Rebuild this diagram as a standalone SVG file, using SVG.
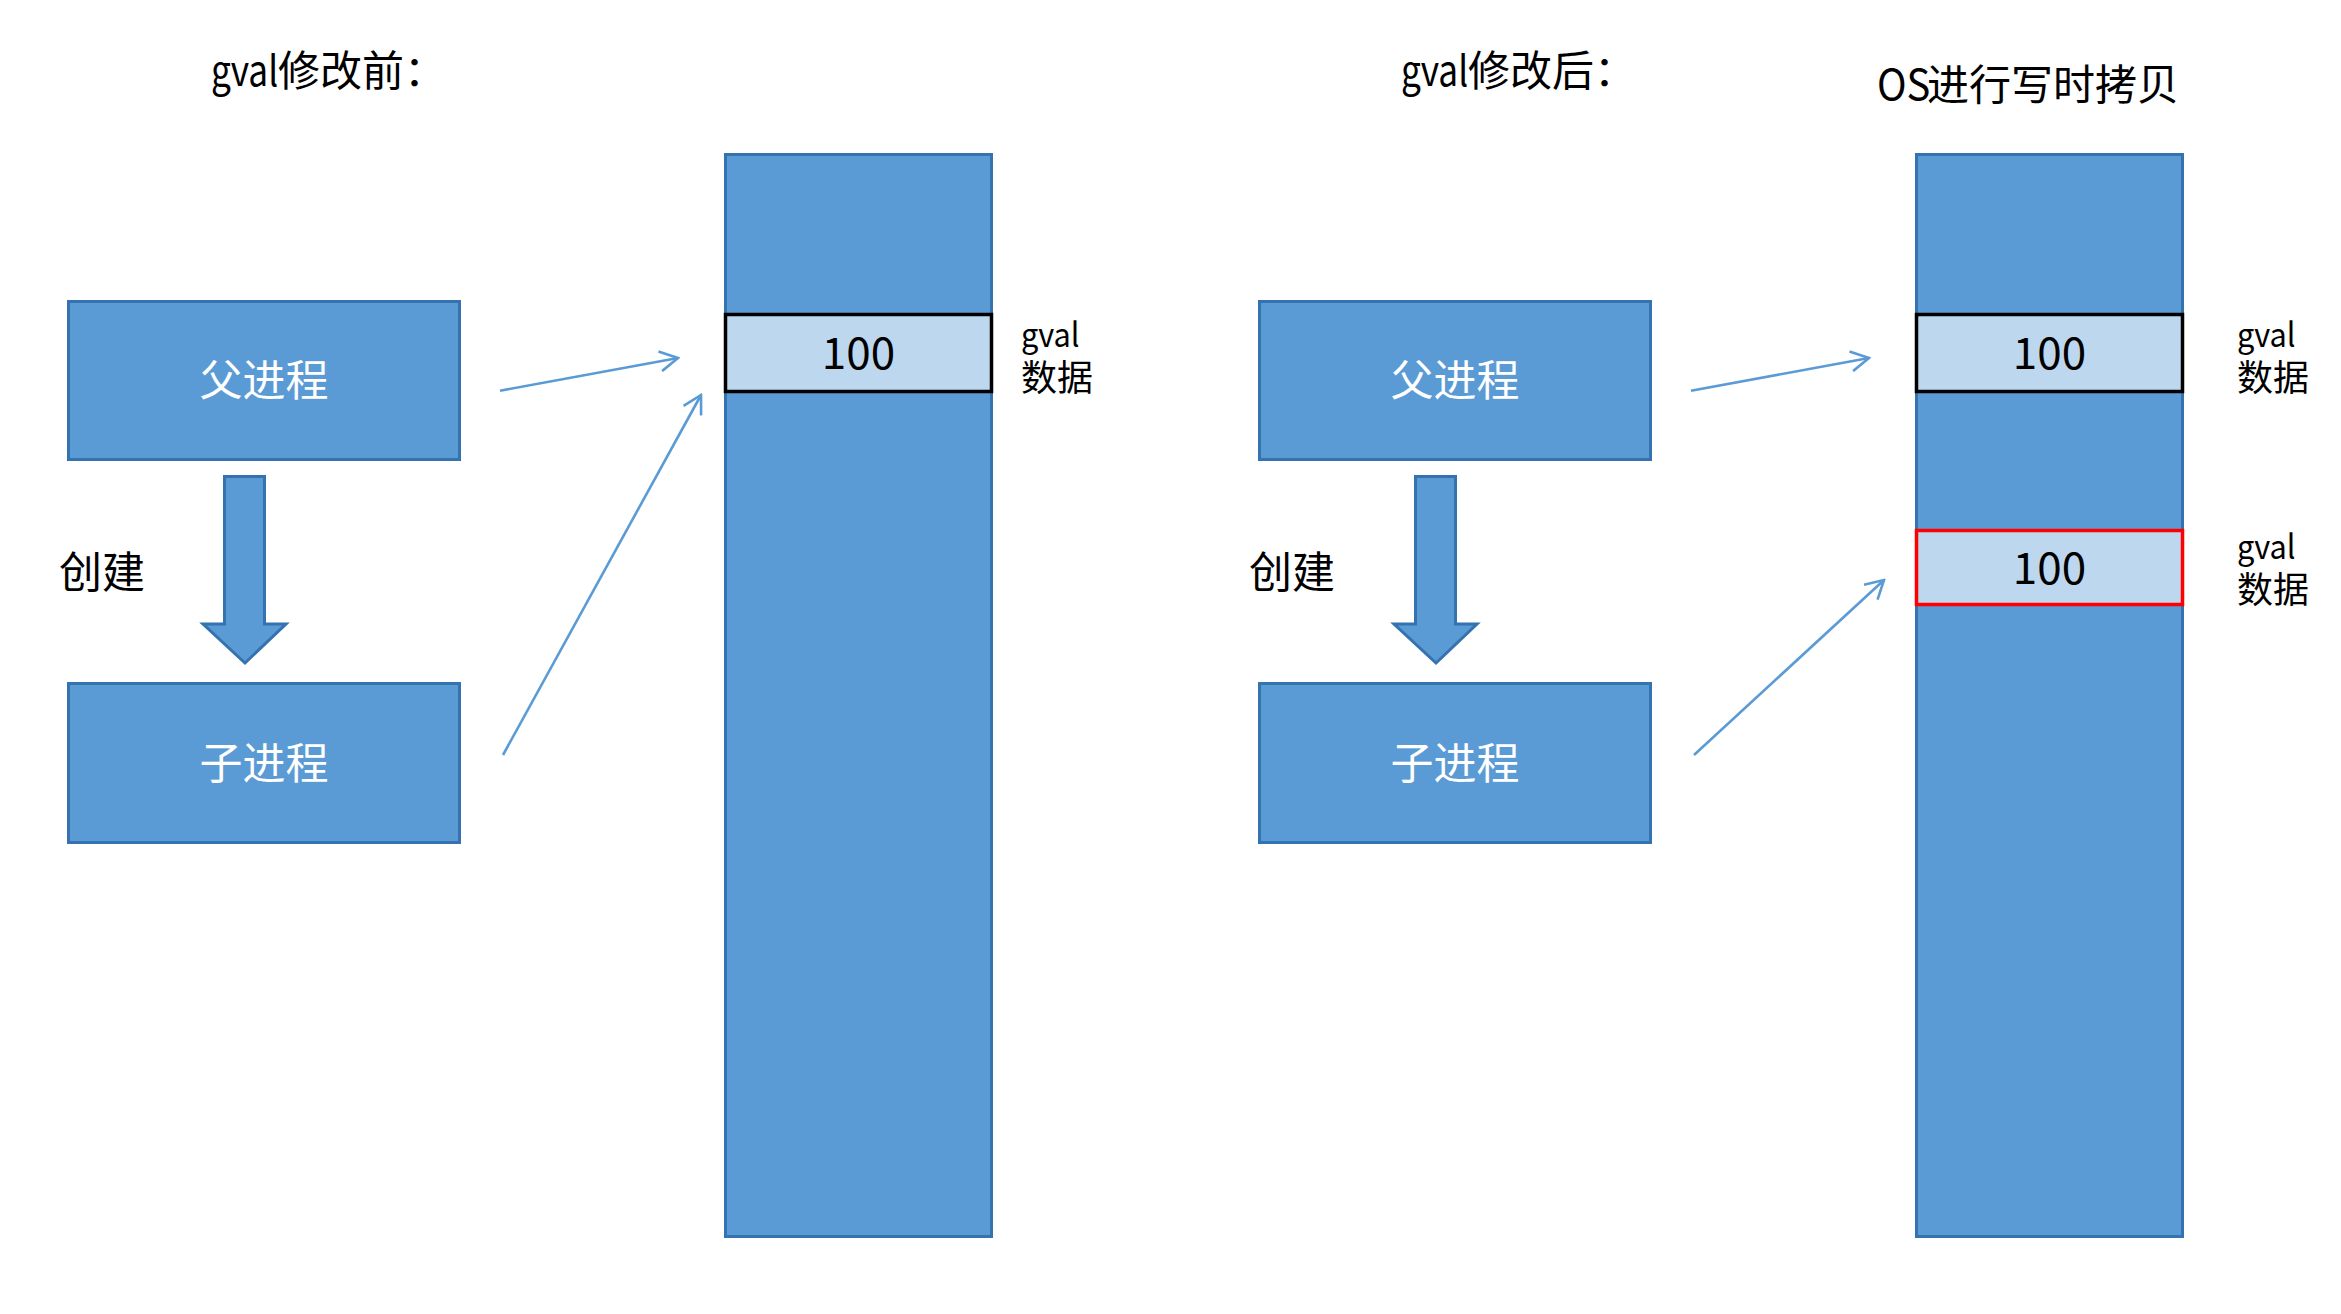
<svg xmlns="http://www.w3.org/2000/svg" width="2341" height="1314" viewBox="0 0 2341 1314">
<style>
.box{fill:#5B9BD5;stroke:#3572B0;stroke-width:3}
.cell{fill:#BDD7EE;stroke:#000;stroke-width:3.5}
.cellr{fill:#BDD7EE;stroke:#FF0000;stroke-width:3.5}
.t{font-family:"Noto Sans CJK SC","Liberation Sans",sans-serif;fill:#000}
.w{font-family:"Noto Sans CJK SC","Liberation Sans",sans-serif;fill:#fff;font-size:43px;text-anchor:middle}
.conn{stroke:#5B9BD5;stroke-width:2.6;fill:none;marker-end:url(#ah)}
</style>
<defs>
<marker id="ah" viewBox="0 0 22 22" refX="20" refY="11" markerWidth="22" markerHeight="22" markerUnits="userSpaceOnUse" orient="auto">
<path d="M2,1 L20,11 L2,21" fill="none" stroke="#5B9BD5" stroke-width="2.6"/>
</marker>
</defs>
<rect width="2341" height="1314" fill="#fff"/>

<g id="title-left"><text class="t" font-size="42" transform="translate(211,86) scale(0.84,1)">gval</text><text class="t" x="278" y="86" font-size="42">修改前：</text></g>
<g id="title-right"><text class="t" font-size="42" transform="translate(1401,86) scale(0.84,1)">gval</text><text class="t" x="1468" y="86" font-size="42">修改后：</text></g>
<g id="title-cow"><text class="t" font-size="42" transform="translate(1877,100) scale(0.95,1)">OS</text><text class="t" x="1927" y="100" font-size="42">进行写时拷贝</text></g>

<!-- left side -->
<g id="parent-left"><rect class="box" x="68.5" y="301.5" width="391" height="158"/><text class="w" x="264" y="396">父进程</text></g>
<g id="create-arrow-left"><polygon class="box" points="224.5,476.5 264.5,476.5 264.5,624 286,624 245,663 203,624 224.5,624"/></g>
<g id="create-label-left"><text class="t" x="59" y="588" font-size="43">创建</text></g>
<g id="child-left"><rect class="box" x="68.5" y="683.5" width="391" height="159"/><text class="w" x="264" y="779">子进程</text></g>
<g id="memory-left"><rect class="box" x="725.5" y="154.5" width="266" height="1082"/></g>
<g id="gval-left"><rect class="cell" x="725.5" y="314.5" width="266" height="77"/><text class="t" x="858.5" y="369" font-size="44" text-anchor="middle">100</text></g>
<g id="label-left"><text class="t" font-size="33" transform="translate(1021,347) scale(0.93,1)">gval</text><text class="t" x="1021" y="391" font-size="36">数据</text></g>

<!-- right side -->
<g id="parent-right"><rect class="box" x="1259.5" y="301.5" width="391" height="158"/><text class="w" x="1455" y="396">父进程</text></g>
<g id="create-arrow-right"><polygon class="box" points="1415.5,476.5 1455.5,476.5 1455.5,624 1477,624 1436,663 1394,624 1415.5,624"/></g>
<g id="create-label-right"><text class="t" x="1249" y="588" font-size="43">创建</text></g>
<g id="child-right"><rect class="box" x="1259.5" y="683.5" width="391" height="159"/><text class="w" x="1455" y="779">子进程</text></g>
<g id="memory-right"><rect class="box" x="1916.5" y="154.5" width="266" height="1082"/></g>
<g id="gval-right-old"><rect class="cell" x="1916.5" y="314.5" width="266" height="77"/><text class="t" x="2049.5" y="369" font-size="44" text-anchor="middle">100</text></g>
<g id="gval-right-new"><rect class="cellr" x="1916.5" y="530.5" width="266" height="74"/><text class="t" x="2049.5" y="584" font-size="44" text-anchor="middle">100</text></g>
<g id="label-right-1"><text class="t" font-size="33" transform="translate(2237,347) scale(0.93,1)">gval</text><text class="t" x="2237" y="391" font-size="36">数据</text></g>
<g id="label-right-2"><text class="t" font-size="33" transform="translate(2237,559) scale(0.93,1)">gval</text><text class="t" x="2237" y="603" font-size="36">数据</text></g>

<g id="connectors">
<line class="conn" x1="500" y1="390.7" x2="678" y2="358"/>
<line class="conn" x1="503" y1="755" x2="701" y2="395"/>
<line class="conn" x1="1691" y1="390.7" x2="1869" y2="358"/>
<line class="conn" x1="1694" y1="755" x2="1884" y2="580"/>
</g>
</svg>
